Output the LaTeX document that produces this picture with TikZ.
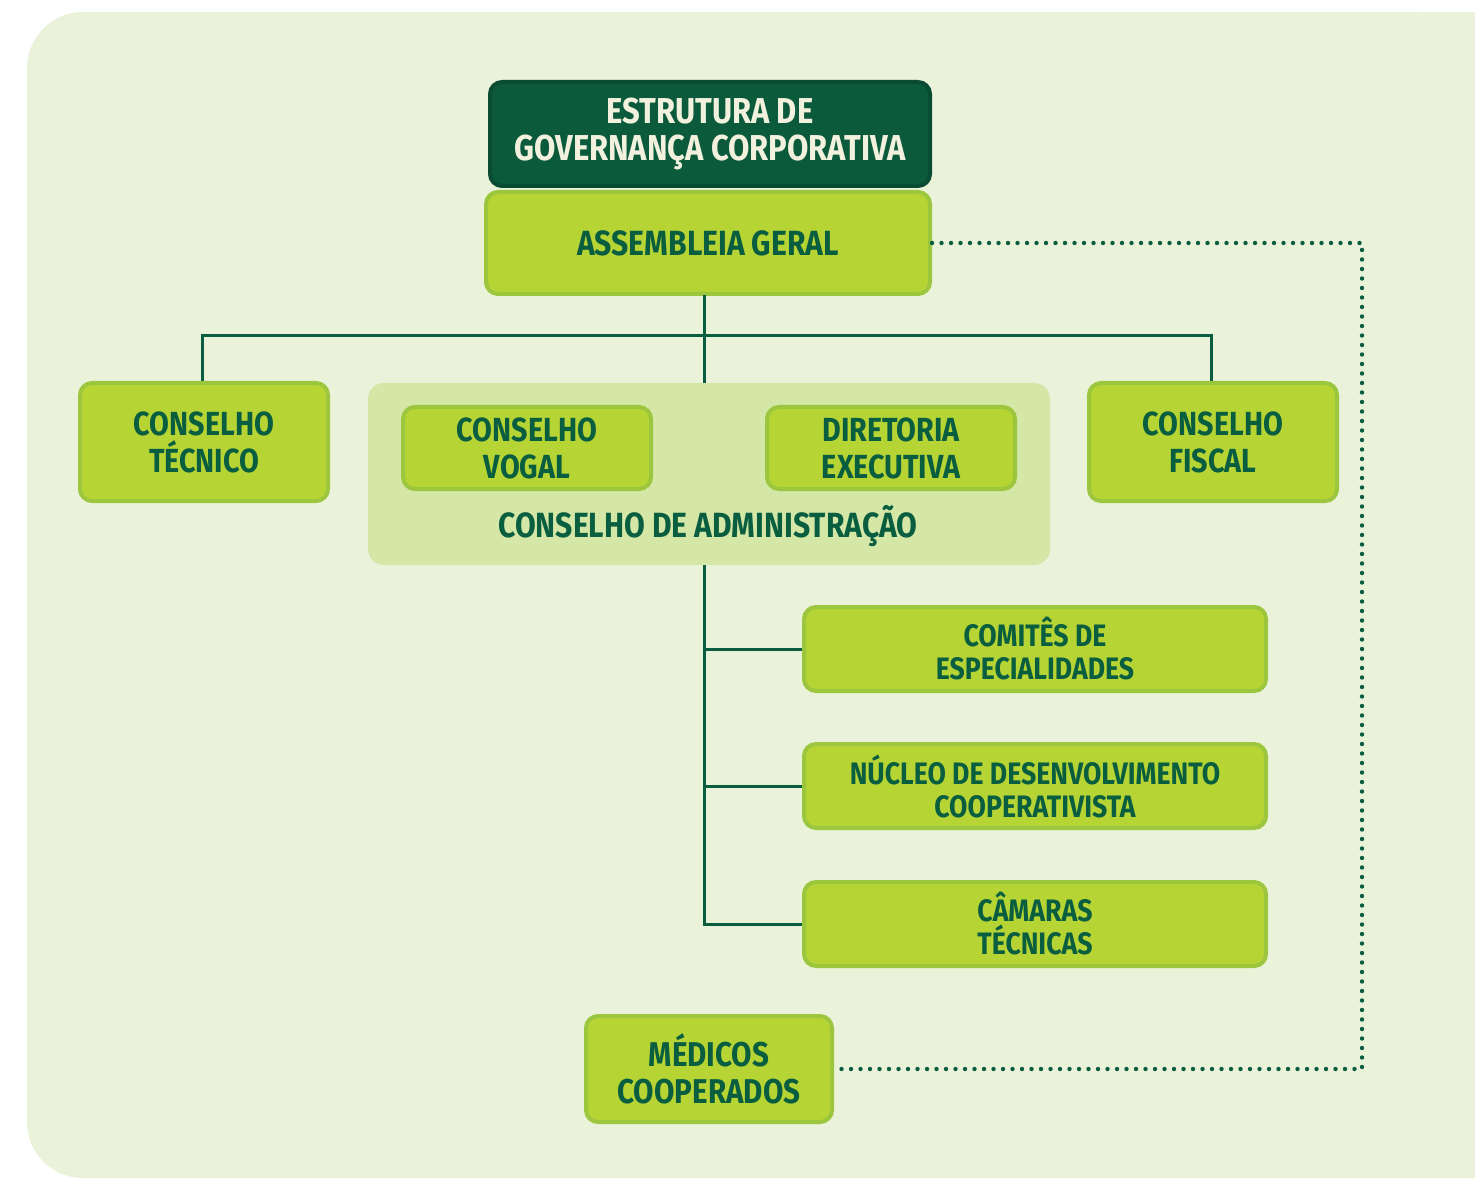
\documentclass[tikz,border=0pt]{standalone}
\usepackage{fontspec}
\setmainfont{Fira Sans}[FakeStretch=0.86]
\usetikzlibrary{positioning}

\definecolor{bgpale}{HTML}{EAF2D9}
\definecolor{govdark}{HTML}{0B5A3C}
\definecolor{lime}{HTML}{B7D435}
\definecolor{limeedge}{HTML}{9DC63F}
\definecolor{adminpale}{HTML}{D4E7A7}
\definecolor{txtgreen}{HTML}{0A5E40}
\definecolor{cream}{HTML}{F1F1DE}

\begin{document}
\begin{tikzpicture}
  [x=0.5pt,y=-0.5pt,
   box/.style={rectangle,rounded corners=6pt,fill=lime,draw=limeedge,line width=2pt,
     align=center,text=txtgreen,inner sep=0pt,font=\bfseries\fontsize{16.7}{18.5}\selectfont},
   smallbox/.style={box,font=\bfseries\fontsize{15.5}{16.5}\selectfont,
     minimum width=231pt,minimum height=42pt},
   titlebox/.style={box,fill=govdark,draw=govdark!85!black,text=cream,
     font=\bfseries\fontsize{18}{18.5}\selectfont},
   link/.style={draw=txtgreen,line width=1.5pt},
   dotline/.style={draw=txtgreen,line width=2.2pt,line cap=round,dash pattern=on 0pt off 4.75pt}]

  \useasboundingbox (0,0) rectangle (1475,1181);
  \fill[bgpale,rounded corners=28pt] (27,12) rectangle (1475,1178);
  \fill[bgpale] (1400,12) rectangle (1475,1178);

  \node[titlebox,minimum width=220pt,minimum height=52pt] (title) at (710,134)
    {ESTRUTURA DE\\GOVERNANÇA CORPORATIVA};
  \node[box,minimum width=222pt,minimum height=51pt,font=\bfseries\fontsize{17.5}{18.5}\selectfont]
    (assemb) at (708,243) {ASSEMBLEIA GERAL};

  \node[box,minimum width=124pt,minimum height=59pt] (tecnico) at (204,442) {CONSELHO\\TÉCNICO};
  \node[box,minimum width=124pt,minimum height=59pt] (fiscal) at (1213,442) {CONSELHO\\FISCAL};

  \node[rectangle,rounded corners=8pt,fill=adminpale,minimum width=341pt,minimum height=91pt]
    (admin) at (709,474) {};
  \node[box,minimum width=124pt,minimum height=41pt] (vogal) at (527,448) {CONSELHO\\VOGAL};
  \node[box,minimum width=124pt,minimum height=41pt] (diretoria) at (891,448) {DIRETORIA\\EXECUTIVA};
  \node[text=txtgreen,font=\bfseries\fontsize{17.5}{18.5}\selectfont] (admtext) at (708,526)
    {CONSELHO DE ADMINISTRAÇÃO};

  \node[smallbox] (comites) at (1035,649) {COMITÊS DE\\ESPECIALIDADES};
  \node[smallbox] (nucleo) at (1035,786) {NÚCLEO DE DESENVOLVIMENTO\\COOPERATIVISTA};
  \node[smallbox] (camaras) at (1035,924) {CÂMARAS\\TÉCNICAS};

  \node[box,minimum width=123pt,minimum height=53pt,font=\bfseries\fontsize{17.2}{18.5}\selectfont]
    (medicos) at (709,1069) {MÉDICOS\\COOPERADOS};

  \coordinate (hub) at (704,336);
  \coordinate (dotx) at (1362,0);

  \draw[link] (704,295) -- (704,383);
  \draw[link] (tecnico.north -| 202,0) |- (hub) -| (fiscal.north -| 1211,0);
  \draw[link] (704,565) |- (camaras.west);
  \foreach \to in {comites,nucleo}
    \draw[link] (704,0 |- \to.west) -- (\to.west);

  \draw[dotline] (assemb.east) -| (dotx |- medicos.east) -- (medicos.east);

\end{tikzpicture}
\end{document}
